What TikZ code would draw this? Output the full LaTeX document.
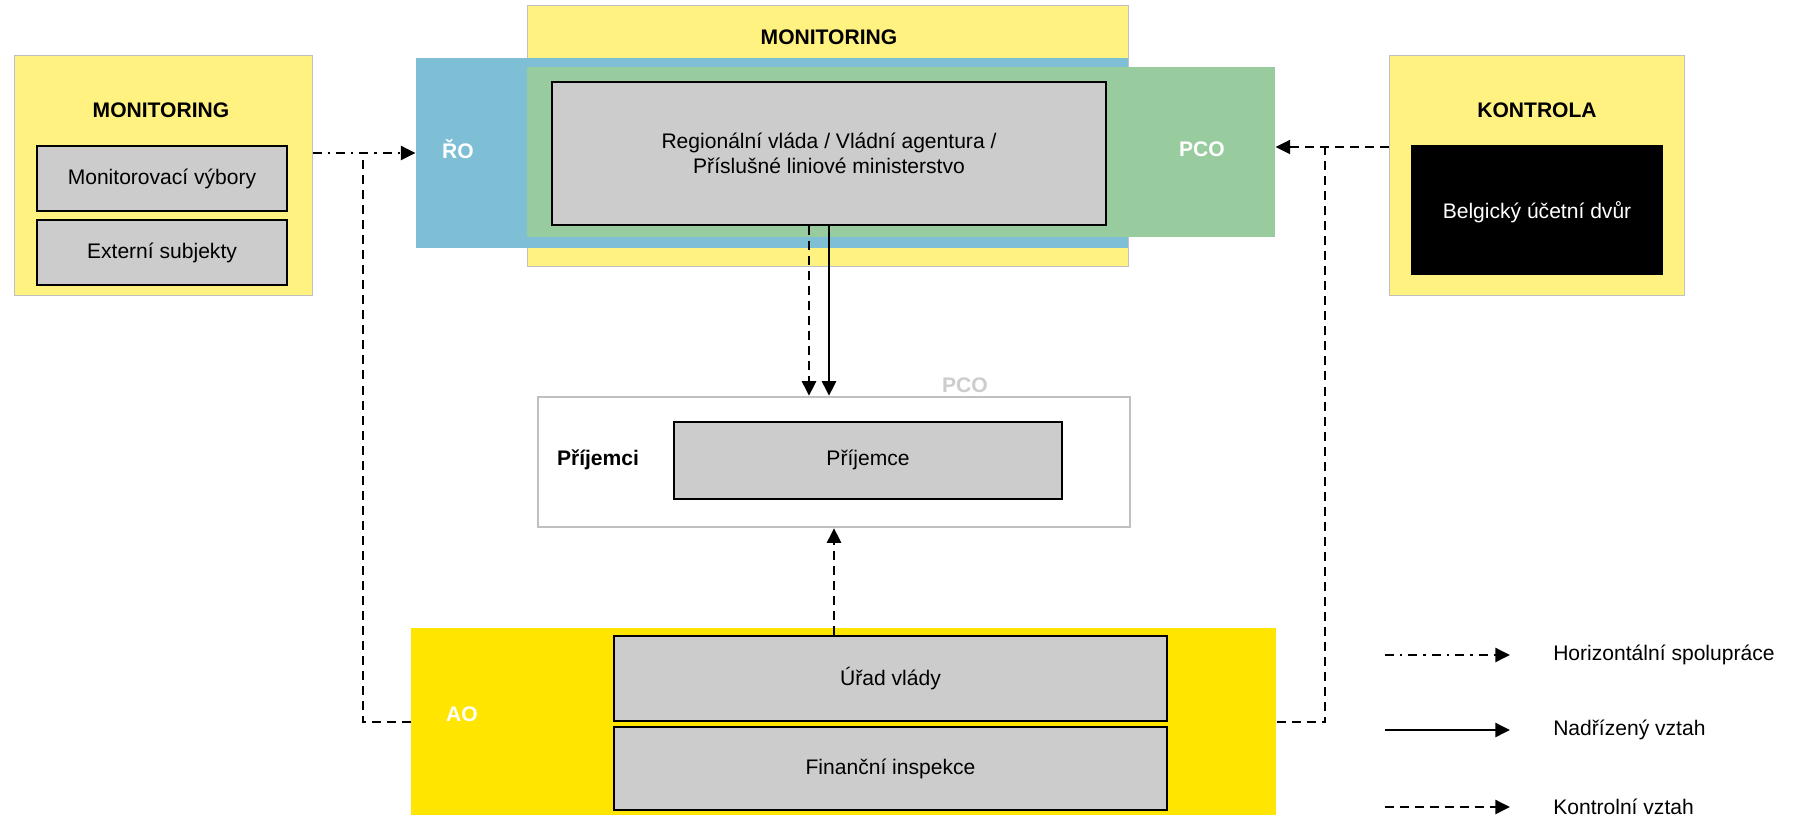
\documentclass[tikz,border=0pt]{standalone}
\usepackage{fontspec}
\setmainfont{Liberation Sans}
\usetikzlibrary{fit,arrows.meta}
\definecolor{ylight}{RGB}{255,242,128}
\definecolor{roblue}{RGB}{127,191,214}
\definecolor{pcogreen}{RGB}{152,203,158}
\definecolor{aoyellow}{RGB}{255,229,0}
\definecolor{boxgray}{RGB}{204,204,204}
\definecolor{edgegray}{RGB}{192,192,192}
\begin{document}
\begin{tikzpicture}[x=0.75pt,y=-0.75pt,
  zone/.style={inner sep=0pt, line width=0.75pt},
  graybox/.style={inner sep=0pt, fill=boxgray, draw=black, line width=1.8pt},
  lbl/.style={inner sep=0pt, font=\fontsize{15.8}{18.75}\selectfont, align=center},
  blbl/.style={inner sep=0pt, font=\fontsize{15.8}{18.75}\selectfont\bfseries},
  wlbl/.style={blbl, text=white},
  ctrl/.style={line width=1.8pt, dash pattern=on 6.75pt off 4.5pt},
  horiz/.style={line width=1.8pt, dash pattern=on 6.75pt off 4.5pt on 1.8pt off 4.5pt},
  subord/.style={line width=1.8pt},
  tip/.style={-{Triangle[length=11pt,width=10.5pt]}}]
\useasboundingbox (0,0) rectangle (1798,816);

% top monitoring / RO / PCO
\node[zone, fill=ylight, draw=edgegray, fit={(527,6) (1128,267)}] (topmon) {};
\node[zone, fill=roblue, fit={(416,58) (1128,248)}] (ro) {};
\node[zone, fill=pcogreen, fit={(527,67) (1275,237)}] (pco) {};
\node[graybox, fit={(552,82) (1106,225)}] (rv) {};
\node[lbl] (rvt) at (829,153) {Regionální vláda / Vládní agentura /\\Příslušné liniové ministerstvo};
\node[blbl] (topmont) at (829,37) {MONITORING};
\node[wlbl] (rot) at (458,149) {ŘO};
\node[wlbl] (pcot) at (1202,149) {PCO};

% left monitoring
\node[zone, fill=ylight, draw=edgegray, fit={(14,56) (312,296)}] (lmon) {};
\node[blbl] (lmont) at (161,110) {MONITORING};
\node[graybox, fit={(37,146) (287,211)}] (mvb) {};
\node[lbl] (mvbt) at (mvb.center) {Monitorovací výbory};
\node[graybox, fit={(37,220) (287,285)}] (ext) {};
\node[lbl] (extt) at (ext.center) {Externí subjekty};

% kontrola
\node[zone, fill=ylight, draw=edgegray, fit={(1389,56) (1684,296)}] (kon) {};
\node[blbl] (kont) at (1537,110) {KONTROLA};
\node[inner sep=0pt, fill=black, fit={(1411,145) (1663,275)}] (buc) {};
\node[lbl, text=white] (buct) at (1537,212) {Belgický účetní dvůr};

% prijemci
\node[inner sep=0pt, fill=white, draw=edgegray, line width=1.8pt, fit={(538,397) (1130,527)}] (prj) {};
\node[blbl] (prjt) at (598,460) {Příjemci};
\node[graybox, fit={(674,422) (1062,499)}] (pre) {};
\node[lbl] (pret) at (868,460) {Příjemce};
\node[blbl, text=gray!40] (ghost) at (965,385) {PCO};

% AO
\node[zone, fill=aoyellow, fit={(411,628) (1276,815)}] (ao) {};
\node[wlbl] (aot) at (462,714) {AO};
\node[graybox, fit={(614,636) (1167,721)}] (uv) {};
\node[lbl] (uvt) at (uv.center) {Úřad vlády};
\node[graybox, fit={(614,727) (1167,810)}] (fi) {};
\node[lbl] (fit) at (fi.center) {Finanční inspekce};

% connectors
\coordinate (jl) at (363,153);
\coordinate (jr) at (1325,147);
\coordinate (yao) at (0,722);
\coordinate (xa) at (809,0);
\coordinate (xb) at (829,0);
\coordinate (xc) at (834,0);
\draw[ctrl] (ao.west |- yao) -| (jl);
\draw[ctrl] (ao.east |- yao) -| (jr);
\draw[horiz, tip] (lmon.east |- jl) -- (ro.west |- jl);
\draw[ctrl, tip] (kon.west |- jr) -- (pco.east |- jr);
\draw[ctrl, tip] (rv.south -| xa) -- (prj.north -| xa);
\draw[subord, tip] (rv.south -| xb) -- (prj.north -| xb);
\draw[ctrl, tip] (uv.north -| xc) -- (prj.south -| xc);

% legend
\coordinate (l1a) at (1385,655); \coordinate (l1b) at (1510,655);
\coordinate (l2a) at (1385,730); \coordinate (l2b) at (1510,730);
\coordinate (l3a) at (1385,807); \coordinate (l3b) at (1510,807);
\draw[horiz, tip] (l1a) -- (l1b);
\draw[subord, tip] (l2a) -- (l2b);
\draw[ctrl, tip] (l3a) -- (l3b);
\node[lbl, anchor=west] (lg1) at (1553,655) {Horizontální spolupráce};
\node[lbl, anchor=west] (lg2) at (1553,730) {Nadřízený vztah};
\node[lbl, anchor=west] (lg3) at (1553,807) {Kontrolní vztah};
\end{tikzpicture}
\end{document}
